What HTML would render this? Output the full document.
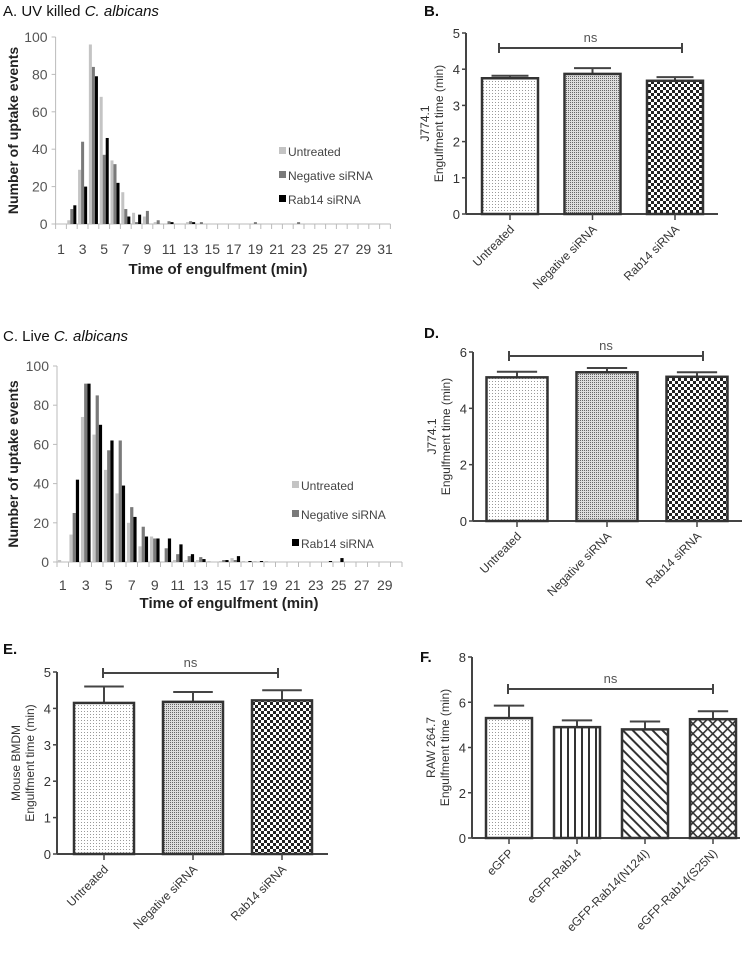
<!DOCTYPE html>
<html><head><meta charset="utf-8"><style>
body{margin:0;background:#fff;width:750px;height:951px;overflow:hidden;font-family:"Liberation Sans",sans-serif}
svg text{font-family:"Liberation Sans",sans-serif}
</style></head><body>
<svg id="s" width="750" height="951" viewBox="0 0 750 951">
<defs>
<pattern id="pU" width="3" height="3" patternUnits="userSpaceOnUse"><rect width="3" height="3" fill="#fff"/><rect width="1" height="1" fill="#999"/></pattern>
<pattern id="pN" width="2" height="2" patternUnits="userSpaceOnUse"><rect width="2" height="2" fill="#ddd"/><rect width="1" height="1" fill="#666"/></pattern>
<pattern id="pR" width="6" height="6" patternUnits="userSpaceOnUse"><rect width="6" height="6" fill="#fff"/><rect width="3" height="3" fill="#222"/><rect x="3" y="3" width="3" height="3" fill="#222"/></pattern>
<pattern id="pV" width="7" height="7" patternUnits="userSpaceOnUse"><rect width="7" height="7" fill="#fff"/><rect width="2" height="7" fill="#333"/></pattern>
<pattern id="pD" width="7" height="7" patternUnits="userSpaceOnUse" patternTransform="rotate(-45)"><rect width="7" height="7" fill="#fff"/><rect width="2" height="7" fill="#333"/></pattern>
<pattern id="pX" width="7" height="7" patternUnits="userSpaceOnUse" patternTransform="rotate(45)"><rect width="7" height="7" fill="#fff"/><rect width="1.6" height="7" fill="#333"/><rect width="7" height="1.6" fill="#333"/></pattern>
</defs>
</svg>
<script>
const NS='http://www.w3.org/2000/svg';const S=document.getElementById('s');
function mk(t,a,p){const e=document.createElementNS(NS,t);for(const k in a)e.setAttribute(k,a[k]);(p||S).appendChild(e);return e;}
function tx(x,y,s,a,p){const e=mk('text',Object.assign({x:x,y:y},a),p);e.textContent=s;return e;}

// Histogram data
const histSeries=['Untreated','Negative siRNA','Rab14 siRNA'];
const histColors=['#c4c4c4','#7a7a7a','#000'];
const aUntreated=[0,2,29,96,68,34,17,6,4,1,0,0,1,0,0,0,0,0,0,0,0,0,0,0,0,0,0,0,0,0,0];
const aNegative=[0,8,44,84,37,32,8,1,7,2,1.5,0,1.5,1,0,0,0,0,1,0,0,0,1,0,0,0,0,0,0,0,0];
const aRab14=[0,10,20,79,46,22,4,5,0,0,1,0,1,0,0,0,0,0,0,0,0,0,0,0,0,0,0,0,0,0,0];
const cUntreated=[1,14,74,65,47,35,20,8,13,0,1,1,1,0.5,0.5,2,0.5,0.5,0.5,0,0,0,0,0,0,0,0,0,0,0];
const cNegative=[0,25,91,85,57,62,28,18,12,7,4,3,2.5,0,1,1,0,0,0,0,0,0,0,0,0,0,0,0,0,0];
const cRab14=[0,42,91,70,62,39,23,13,12,12,9,4,1.5,0,1,3,0.5,0.5,0,0,0,0,0,0.5,2,0,0,0,0,0];
const yTicks=[0,20,40,60,80,100];

function hist(o){
  const g=mk('g',{});
  const n=o.series[0].length,w=o.w;
  const Y=v=>o.y0-(v/100)*(o.y0-o.y100);
  const title=tx(3,o.ty,'',{'font-size':15,fill:'#111'},g);title.innerHTML=o.title;
  
  mk('line',{x1:o.x0,y1:o.y100,x2:o.x0,y2:o.y0,stroke:'#bbb'},g);
  mk('line',{x1:o.x0-4,y1:o.y0,x2:o.x0+n*w,y2:o.y0,stroke:'#bbb'},g);
  yTicks.forEach(t=>{mk('line',{x1:o.x0-4,x2:o.x0,y1:Y(t),y2:Y(t),stroke:'#bbb'},g);
    tx(o.x0-8,Y(t)+5,String(t),{'font-size':14,fill:'#555','text-anchor':'end'},g);});
  for(let i=0;i<=n;i++)mk('line',{x1:o.x0+i*w,x2:o.x0+i*w,y1:o.y0,y2:o.y0+5,stroke:'#bbb'},g);
  for(let i=0;i<n;i+=2)tx(o.x0+(i+0.5)*w,o.lby,String(i+1),{'font-size':14,fill:'#444','text-anchor':'middle'},g);
  const bw=w*0.28;
  o.series.forEach((s,k)=>s.forEach((v,i)=>{if(v<=0)return;
    const b=mk('rect',{x:o.x0+i*w+w*0.08+k*bw,y:Y(v),width:bw,height:o.y0-Y(v),fill:histColors[k]},g);
    
    }));
  histSeries.forEach((s,k)=>{mk('rect',{x:o.lx,y:o.ly+k*o.lg-9,width:7,height:7,fill:histColors[k]},g);
    const t=tx(o.lx+9,o.ly+k*o.lg,s,{'font-size':12,fill:'#444'},g);
    });
  const yt=tx(0,0,o.ylab,{'font-size':14,'font-weight':'bold',fill:'#222','text-anchor':'middle',transform:`translate(${o.yx},${(o.y0+o.y100)/2}) rotate(-90)`},g);
  
  const xt=tx(o.xtx,o.xty,'Time of engulfment (min)',{'font-size':15,'font-weight':'bold',fill:'#222','text-anchor':'middle'},g);
  
}
hist({name:'panel-a-histogram',title:'A. UV killed <tspan font-style="italic">C. albicans</tspan>',ty:16,x0:55.6,w:10.8,y0:224,y100:37,series:[aUntreated,aNegative,aRab14],lx:279,ly:156,lg:24,ylab:'Number  of uptake events',yx:18,lby:254,xtx:218,xty:274});
hist({name:'panel-c-histogram',title:'C. Live <tspan font-style="italic">C. albicans</tspan>',ty:341,x0:57,w:11.5,y0:562,y100:366,series:[cUntreated,cNegative,cRab14],lx:292,ly:490,lg:29,ylab:'Number of uptake events',yx:18,lby:590,xtx:229,xty:608});

// Bar chart data
const bCats=['Untreated','Negative siRNA','Rab14 siRNA'];
const bVals=[3.75,3.87,3.68];const bErr=[3.82,4.03,3.78];const bTicks=[0,1,2,3,4,5];
const dVals=[5.1,5.28,5.12];const dErr=[5.3,5.43,5.28];const dTicks=[0,2,4,6];
const eVals=[4.15,4.18,4.22];const eErr=[4.6,4.45,4.5];const eTicks=[0,1,2,3,4,5];
const fCats=['eGFP','eGFP-Rab14','eGFP-Rab14(N124I)','eGFP-Rab14(S25N)'];
const fVals=[5.3,4.9,4.8,5.25];const fErr=[5.85,5.2,5.15,5.6];const fTicks=[0,2,4,6,8];

function bars(o){
  const g=mk('g',{});
  const max=o.ticks[o.ticks.length-1];const Y=v=>o.y0-v/max*(o.y0-o.yt);
  const t=tx(o.lx,o.ly,o.letter,{'font-size':15,'font-weight':'bold',fill:'#111'},g);
  
  mk('line',{x1:o.x0,x2:o.x0,y1:o.yt,y2:o.y0,stroke:'#444','stroke-width':2},g);
  mk('line',{x1:o.x0,x2:o.x1,y1:o.y0,y2:o.y0,stroke:'#444','stroke-width':2},g);
  o.ticks.forEach(v=>{mk('line',{x1:o.x0-4,x2:o.x0,y1:Y(v),y2:Y(v),stroke:'#444','stroke-width':1.5},g);
    tx(o.x0-6,Y(v)+5,String(v),{'font-size':13,fill:'#333','text-anchor':'end'},g);});
  const n=o.vals.length,bw=o.bw;
  o.vals.forEach((v,i)=>{const cx=o.c0+o.step*i;
    mk('line',{x1:cx,x2:cx,y1:Y(o.err[i]),y2:Y(v),stroke:'#444','stroke-width':2},g);
    mk('line',{x1:cx-bw*0.33,x2:cx+bw*0.33,y1:Y(o.err[i]),y2:Y(o.err[i]),stroke:'#444','stroke-width':2},g);
    const b=mk('rect',{x:cx-bw/2,y:Y(v),width:bw,height:o.y0-Y(v),fill:'url(#'+o.fills[i]+')',stroke:'#333','stroke-width':2.5},g);
    
    
    mk('line',{x1:cx,x2:cx,y1:o.y0,y2:o.y0+6,stroke:'#444','stroke-width':1.5},g);
    const lb=tx(0,0,o.cats[i],{'font-size':12,fill:'#333','text-anchor':'end',transform:`translate(${cx+5},${o.y0+16}) rotate(-45)`},g);
    });
  const c0=o.ns0,c1=o.ns1;
  mk('line',{x1:c0,x2:c1,y1:o.ns,y2:o.ns,stroke:'#444','stroke-width':2},g);
  mk('line',{x1:c0,x2:c0,y1:o.ns-5,y2:o.ns+5,stroke:'#444','stroke-width':2},g);
  mk('line',{x1:c1,x2:c1,y1:o.ns-5,y2:o.ns+5,stroke:'#444','stroke-width':2},g);
  tx((c0+c1)/2,o.ns-6,'ns',{'font-size':13,fill:'#555','text-anchor':'middle'},g);
  const yc=(o.y0+o.yt)/2;
  const y1=tx(0,0,o.ylab1,{'font-size':12,fill:'#333','text-anchor':'middle',transform:`translate(${o.x0-37},${yc}) rotate(-90)`},g);
  const y2=tx(0,0,'Engulfment time (min)',{'font-size':12,fill:'#333','text-anchor':'middle',transform:`translate(${o.x0-23},${yc}) rotate(-90)`},g);
  
  
}
bars({name:'panel-b-bar-chart',letter:'B.',lx:424,ly:16,x0:466,x1:718,y0:214,yt:33,ticks:bTicks,vals:bVals,err:bErr,cats:bCats,fills:['pU','pN','pR'],c0:510,step:82.5,bw:56,ns:48,ns0:499,ns1:682,ylab1:'J774.1'});
bars({name:'panel-d-bar-chart',letter:'D.',lx:424,ly:338,x0:473,x1:742,y0:521,yt:352,ticks:dTicks,vals:dVals,err:dErr,cats:bCats,fills:['pU','pN','pR'],c0:517,step:90,bw:61,ns:356,ns0:509,ns1:703,ylab1:'J774.1'});
bars({name:'panel-e-bar-chart',letter:'E.',lx:3,ly:654,x0:57,x1:328,y0:854,yt:672,ticks:eTicks,vals:eVals,err:eErr,cats:bCats,fills:['pU','pN','pR'],c0:104,step:89,bw:60,ns:673,ns0:103,ns1:278,ylab1:'Mouse BMDM'});
bars({name:'panel-f-bar-chart',letter:'F.',lx:420,ly:662,x0:472,x1:740,y0:838,yt:657,ticks:fTicks,vals:fVals,err:fErr,cats:fCats,fills:['pU','pV','pD','pX'],c0:509,step:68,bw:46,ns:689,ns0:508,ns1:713,ylab1:'RAW 264.7'});
</script>
</body></html>
